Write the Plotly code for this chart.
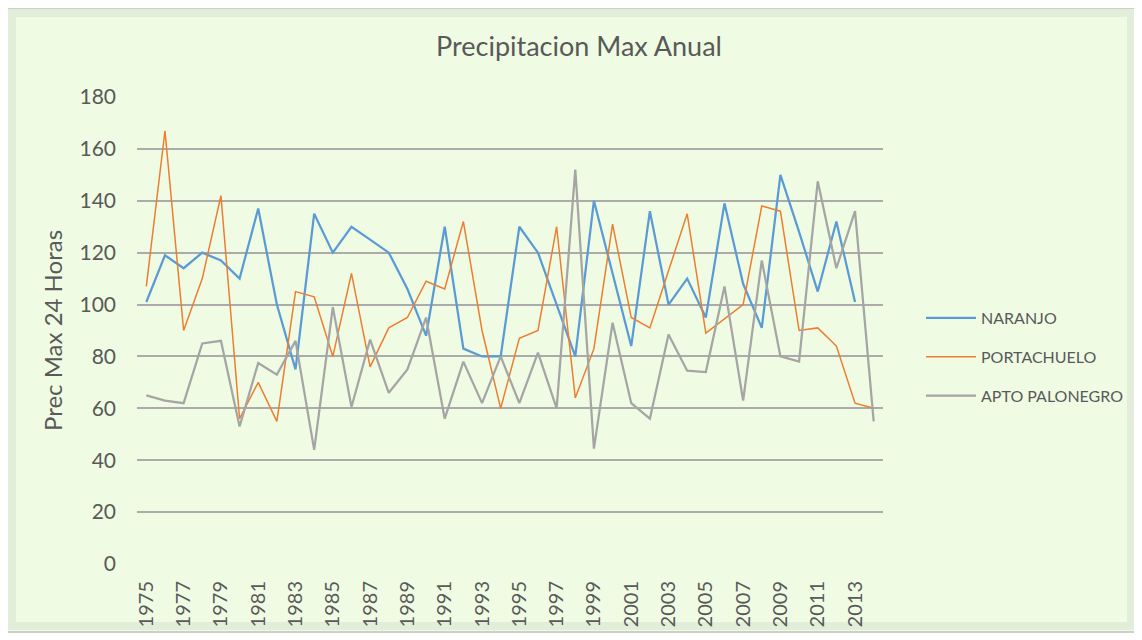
import plotly.graph_objects as go

# ── datos ────────────────────────────────────────────
years = [str(y) for y in range(1975, 2015)]

naranjo = [101, 119, 114, 120, 117, 110, 137, 100, 75, 135,
           120, 130, 125, 120, 106, 88, 130, 83, 80, 80,
           130, 120, 100, 80, 140, 112, 84, 136, 100, 110,
           95, 139, 108, 91, 150, 128, 105, 132, 101, None]

portachuelo = [107, 167, 90, 110, 142, 56, 70, 55, 105, 103,
               80, 112, 76, 91, 95, 109, 106, 132, 90, 60,
               87, 90, 130, 64, 83, 131, 95, 91, 113, 135,
               89, 94.5, 100, 138, 136, 90, 91, 84, 62, 60]

palonegro = [65, 63, 62, 85, 86, 53, 77.5, 73, 86, 44,
             99, 60.5, 86.5, 66, 75, 95, 56, 78, 62, 80,
             62, 81.5, 60, 152, 44.5, 93, 62, 56, 88.5, 74.5,
             74, 107, 63, 117, 80, 78, 147.5, 114, 136, 55]

series = [("NARANJO", naranjo, "#5B9BD5", 2.25),
          ("PORTACHUELO", portachuelo, "#ED7D31", 1.5),
          ("APTO PALONEGRO", palonegro, "#A5A5A5", 2.25)]

FONT = "Lato, 'Open Sans', sans-serif"
TXT = "#595959"

# ── figura ───────────────────────────────────────────
fig = go.Figure()
for name, vals, color, w in series:
    fig.add_trace(go.Scatter(x=years, y=vals, name=name, mode="lines",
                             legendgroup=name,
                             line=dict(color=color, width=w),
                             connectgaps=False))

# la página desplaza la figura 8px (margen del body)
OFF = 8
W, H = 1142 - OFF, 640 - OFF
L, R, T, B = 137 - OFF, 1142 - 883, 97 - OFF, 640 - 564
pw, ph = W - L - R, H - T - B

def px_x(p): return (p - OFF - L) / pw
def px_y(p): return (H - B - (p - OFF)) / ph

# marco verde con borde gris y bisel
fig.add_shape(type="rect", xref="paper", yref="paper", layer="below",
              x0=px_x(6), x1=px_x(1137), y0=px_y(8), y1=px_y(632),
              fillcolor="#EFFCE3", line=dict(color="#C9D0C4", width=2))
fig.add_shape(type="rect", xref="paper", yref="paper", layer="below",
              x0=px_x(12), x1=px_x(1131), y0=px_y(13), y1=px_y(626),
              fillcolor="rgba(0,0,0,0)", line=dict(color="#E2EEDA", width=8))

fig.update_layout(
    width=W, height=H,
    margin=dict(l=L, r=R, t=T, b=B),
    paper_bgcolor="white",
    plot_bgcolor="rgba(0,0,0,0)",
    font=dict(family=FONT, color=TXT),
    title=dict(text="Precipitacion Max Anual", x=px_x(579), xref="paper",
               xanchor="center", y=1 - (47 - OFF) / H, yanchor="middle",
               font=dict(size=27, color=TXT)),
    legend=dict(x=px_x(921), y=px_y(301), xanchor="left", yanchor="top",
                font=dict(size=16, color=TXT), bgcolor="rgba(0,0,0,0)",
                itemwidth=50, tracegroupgap=15, traceorder="grouped"),
    showlegend=True,
)

fig.update_xaxes(type="category", range=[-0.5, 39.5],
                 tickvals=years[::2], ticktext=years[::2],
                 tickangle=-90, tickfont=dict(size=20, color=TXT),
                 showgrid=False, showline=False, ticks="",
                 ticklabelstandoff=12)

fig.update_yaxes(range=[0, 180], dtick=20, tickfont=dict(size=21, color=TXT),
                 showgrid=True, gridcolor="#ABABAB", gridwidth=1.5,
                 zeroline=False, ticklabelstandoff=20,
                 title=dict(text="Prec Max 24 Horas", font=dict(size=24, color=TXT),
                            standoff=10))

fig.write_html("out.html")
